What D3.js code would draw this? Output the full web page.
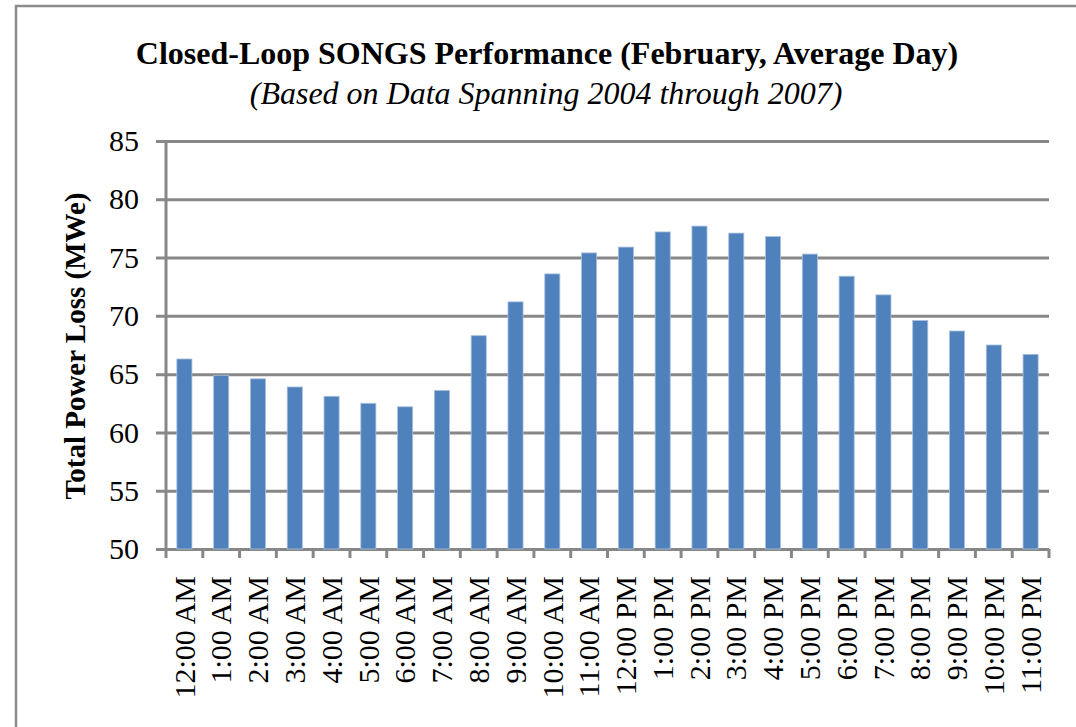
<!DOCTYPE html>
<html lang="en">
<head>
  <meta charset="UTF-8" />
  <title>Closed-Loop SONGS Performance</title>
  <script src="https://d3js.org/d3.v7.min.js"></script>
  <style>
    body {
      margin: 0;
      background: #ffffff;
      overflow: hidden;
    }
    text {
      font-family: 'Liberation Serif', 'Times New Roman', serif;
      fill: #000000;
    }
  </style>
</head>
<body>
  <div id="chart"></div>

  <script>
    // hours of an average February day
    const hours = [
      "12:00 AM", "1:00 AM", "2:00 AM", "3:00 AM", "4:00 AM", "5:00 AM",
      "6:00 AM", "7:00 AM", "8:00 AM", "9:00 AM", "10:00 AM", "11:00 AM",
      "12:00 PM", "1:00 PM", "2:00 PM", "3:00 PM", "4:00 PM", "5:00 PM",
      "6:00 PM", "7:00 PM", "8:00 PM", "9:00 PM", "10:00 PM", "11:00 PM"
    ];

    // total power loss, MWe
    const powerLoss = [
      66.3, 64.9, 64.6, 63.9, 63.1, 62.5,
      62.2, 63.6, 68.3, 71.2, 73.6, 75.4,
      75.9, 77.2, 77.7, 77.1, 76.8, 75.3,
      73.4, 71.8, 69.6, 68.7, 67.5, 66.7
    ];

    const yTicks = [50, 55, 60, 65, 70, 75, 80, 85];

    const width = 1076;
    const height = 727;
    const margin = { top: 141, right: 27, bottom: 178, left: 166 };
    const gridColor = "#878787";

    const svg = d3.select("#chart").append("svg")
      .attr("width", width)
      .attr("height", height);

    // outer frame (runs off the right and bottom edges)
    svg.append("rect")
      .attr("x", 16)
      .attr("y", 6)
      .attr("width", width + 20)
      .attr("height", height + 20)
      .attr("fill", "none")
      .attr("stroke", "#8c8c8c")
      .attr("stroke-width", 2.5);

    const x = d3.scaleBand()
      .domain(hours)
      .range([margin.left, width - margin.right])
      .paddingInner(0.59)
      .paddingOuter(0.295);

    const y = d3.scaleLinear()
      .domain([50, 85])
      .range([height - margin.bottom, margin.top]);

    // gridlines + y labels
    const yAxis = svg.append("g")
      .attr("transform", `translate(${margin.left - 10},0)`)
      .call(d3.axisLeft(y)
        .tickValues(yTicks)
        .tickSize(-(width - margin.right - margin.left + 10))
        .tickPadding(17));

    yAxis.select(".domain").remove();
    yAxis.selectAll("line")
      .attr("stroke", gridColor)
      .attr("stroke-width", 3);
    yAxis.selectAll("text")
      .style("font-size", "30px")
      .style("font-family", "'Liberation Serif', 'Times New Roman', serif");

    // bars
    svg.append("g")
      .selectAll("rect")
      .data(powerLoss)
      .enter().append("rect")
      .attr("x", (d, i) => x(hours[i]))
      .attr("y", d => y(d))
      .attr("width", x.bandwidth())
      .attr("height", d => y(50) - y(d))
      .attr("fill", "#4f81bd")
      .attr("stroke", "#a9c0de")
      .attr("stroke-width", 0.8);

    // y axis line
    svg.append("line")
      .attr("x1", margin.left)
      .attr("x2", margin.left)
      .attr("y1", y(85))
      .attr("y2", y(50) + 1)
      .attr("stroke", gridColor)
      .attr("stroke-width", 3);

    // category boundary ticks along the bottom
    const step = x.step();
    const edges = d3.range(hours.length + 1).map(i => x.range()[0] + i * step);
    svg.append("g")
      .selectAll("line")
      .data(edges)
      .enter().append("line")
      .attr("x1", d => d)
      .attr("x2", d => d)
      .attr("y1", y(50))
      .attr("y2", y(50) + 9)
      .attr("stroke", gridColor)
      .attr("stroke-width", 3);

    // x labels, rotated
    const xAxis = svg.append("g")
      .attr("transform", `translate(0,${y(50)})`)
      .call(d3.axisBottom(x).tickSize(0));

    xAxis.select(".domain").remove();
    xAxis.selectAll("text")
      .attr("transform", "rotate(-90)")
      .attr("x", -27)
      .attr("y", 0)
      .attr("dy", "0.34em")
      .style("text-anchor", "end")
      .style("font-size", "30px")
      .style("font-family", "'Liberation Serif', 'Times New Roman', serif");

    // titles
    svg.append("text")
      .attr("x", 547)
      .attr("y", 64)
      .attr("text-anchor", "middle")
      .style("font-size", "32px")
      .style("font-weight", "bold")
      .text("Closed-Loop SONGS Performance (February, Average Day)");

    svg.append("text")
      .attr("x", 546)
      .attr("y", 104)
      .attr("text-anchor", "middle")
      .style("font-size", "32px")
      .style("font-style", "italic")
      .text("(Based on Data Spanning 2004 through 2007)");

    svg.append("text")
      .attr("transform", "translate(85,346) rotate(-90)")
      .attr("text-anchor", "middle")
      .style("font-size", "29px")
      .style("font-weight", "bold")
      .text("Total Power Loss (MWe)");
  </script>
</body>
</html>
